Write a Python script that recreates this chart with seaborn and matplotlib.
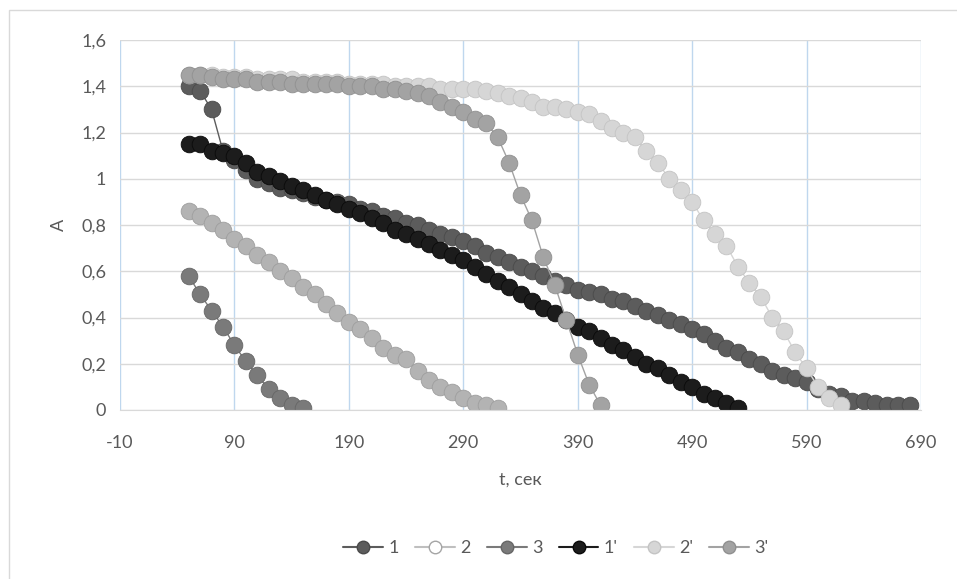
import matplotlib
matplotlib.use("Agg")
import matplotlib.pyplot as plt
from matplotlib.lines import Line2D
from matplotlib.patches import Rectangle
from matplotlib.ticker import FuncFormatter
import seaborn as sns

# Datos (t en segundos, A = absorbancia)
t_1 = list(range(50, 690, 10))
a_1 = [1.40, 1.38, 1.30, 1.12, 1.08, 1.04, 1.00, 0.98, 0.96, 0.95, 0.94, 0.92, 0.91, 0.90,
       0.89, 0.87, 0.86, 0.84, 0.83, 0.81, 0.80, 0.78, 0.76, 0.75, 0.73, 0.71, 0.68, 0.66,
       0.64, 0.62, 0.60, 0.58, 0.56, 0.54, 0.52, 0.51, 0.50, 0.48, 0.47, 0.45, 0.43, 0.41,
       0.39, 0.37, 0.35, 0.33, 0.30, 0.27, 0.25, 0.22, 0.20, 0.17, 0.15, 0.14, 0.12, 0.09,
       0.07, 0.06, 0.04, 0.04, 0.03, 0.02, 0.02, 0.02]

t_2 = list(range(50, 330, 10))
a_2 = [0.86, 0.84, 0.81, 0.78, 0.74, 0.71, 0.67, 0.64, 0.60, 0.57, 0.53, 0.50, 0.46, 0.42,
       0.38, 0.35, 0.31, 0.27, 0.24, 0.22, 0.17, 0.13, 0.10, 0.08, 0.05, 0.03, 0.02, 0.01]

t_3 = list(range(50, 160, 10))
a_3 = [0.58, 0.50, 0.43, 0.36, 0.28, 0.21, 0.15, 0.09, 0.05, 0.02, 0.01]

t_1p = list(range(50, 540, 10))
a_1p = [1.15, 1.15, 1.12, 1.11, 1.10, 1.07, 1.03, 1.01, 0.99, 0.97, 0.95, 0.93, 0.91, 0.89,
        0.87, 0.85, 0.83, 0.81, 0.78, 0.76, 0.74, 0.72, 0.69, 0.67, 0.65, 0.62, 0.59, 0.56,
        0.53, 0.50, 0.47, 0.44, 0.42, 0.39, 0.36, 0.34, 0.31, 0.28, 0.26, 0.23, 0.20, 0.18,
        0.15, 0.12, 0.10, 0.07, 0.05, 0.03, 0.01]

t_2p = list(range(50, 630, 10))
a_2p = [1.45, 1.45, 1.45, 1.44, 1.44, 1.44, 1.43, 1.43, 1.43, 1.43, 1.42, 1.42, 1.42, 1.42,
        1.41, 1.41, 1.41, 1.41, 1.40, 1.40, 1.40, 1.40, 1.39, 1.39, 1.39, 1.39, 1.38, 1.37,
        1.36, 1.35, 1.33, 1.31, 1.31, 1.30, 1.29, 1.28, 1.25, 1.22, 1.20, 1.18, 1.12, 1.07,
        1.00, 0.95, 0.90, 0.82, 0.76, 0.71, 0.62, 0.55, 0.49, 0.40, 0.34, 0.25, 0.18, 0.10,
        0.05, 0.02]

t_3p = list(range(50, 420, 10))
a_3p = [1.45, 1.45, 1.44, 1.43, 1.43, 1.43, 1.42, 1.42, 1.42, 1.41, 1.41, 1.41, 1.41, 1.41,
        1.40, 1.40, 1.40, 1.39, 1.39, 1.38, 1.37, 1.36, 1.33, 1.31, 1.29, 1.26, 1.24, 1.18,
        1.07, 0.93, 0.82, 0.66, 0.54, 0.39, 0.24, 0.11, 0.02]

etiquetas = ["1", "2", "3", "1'", "2'", "3'"]
series = [(t_1, a_1), (t_2, a_2), (t_3, a_3), (t_1p, a_1p), (t_2p, a_2p), (t_3p, a_3p)]
colores = ["#5c5c5c", "#b3b3b3", "#7a7a7a", "#1c1c1c", "#d6d6d6", "#a3a3a3"]
bordes = ["#4a4a4a", "#9e9e9e", "#666666", "#0a0a0a", "#c4c4c4", "#909090"]

sns.set_style("white")
plt.rcParams["font.family"] = ["Lato", "DejaVu Sans"]
plt.rcParams["axes.unicode_minus"] = False
gris = "#595959"

fig = plt.figure(figsize=(9.57, 5.79), dpi=100)
ax = fig.add_axes([120 / 957, 1 - 410 / 579, 801 / 957, 370 / 579])

# Marco exterior del gráfico
fig.patches.append(Rectangle((9 / 957, -0.1), 1.2, 1.1 - 10 / 579, transform=fig.transFigure,
                             fill=False, edgecolor="#d9d9d9", linewidth=1, zorder=0))

for (t, a), col, bor in zip(series, colores, bordes):
    sns.lineplot(x=t, y=a, ax=ax, color=col, marker="o", markersize=12, linewidth=1,
                 markeredgecolor=bor, markeredgewidth=0.6, sort=False)

ax.set_xlim(-10, 690)
ax.set_ylim(0, 1.6)
ax.set_xticks(range(-10, 691, 100))
ax.set_yticks([0, 0.2, 0.4, 0.6, 0.8, 1.0, 1.2, 1.4, 1.6])
ax.yaxis.set_major_formatter(FuncFormatter(lambda v, p: f"{v:g}".replace(".", ",")))

ax.grid(axis="y", color="#d9d9d9", linewidth=1)
ax.grid(axis="x", color="#bfd7ee", linewidth=1)
ax.set_axisbelow(True)
for lado in ["top", "right", "left"]:
    ax.spines[lado].set_visible(False)
ax.spines["bottom"].set_color("#d9d9d9")
ax.tick_params(axis="x", length=0, pad=18, labelsize=13, labelcolor=gris)
ax.tick_params(axis="y", length=0, pad=10, labelsize=13, labelcolor=gris)

ax.set_xlabel("t, сек", fontsize=13, color=gris, labelpad=15)
ax.set_ylabel("A", fontsize=13, color=gris, labelpad=10)

handles = []
for i, (col, bor) in enumerate(zip(colores, bordes)):
    if etiquetas[i] == "2":
        h = Line2D([], [], color="#bfbfbf", marker="o", markersize=9, linewidth=1.5,
                   markerfacecolor="white", markeredgecolor="#a5a5a5")
    else:
        h = Line2D([], [], color=col, marker="o", markersize=9, linewidth=1.5,
                   markerfacecolor=col, markeredgecolor=bor)
    handles.append(h)
fig.legend(handles, etiquetas, loc="center", bbox_to_anchor=(556 / 957, 1 - 548 / 579),
           ncol=6, frameon=False, fontsize=13, labelcolor=gris, handlelength=2.2,
           handletextpad=0.3, columnspacing=0.9)

plt.savefig("out.png", dpi=100)
